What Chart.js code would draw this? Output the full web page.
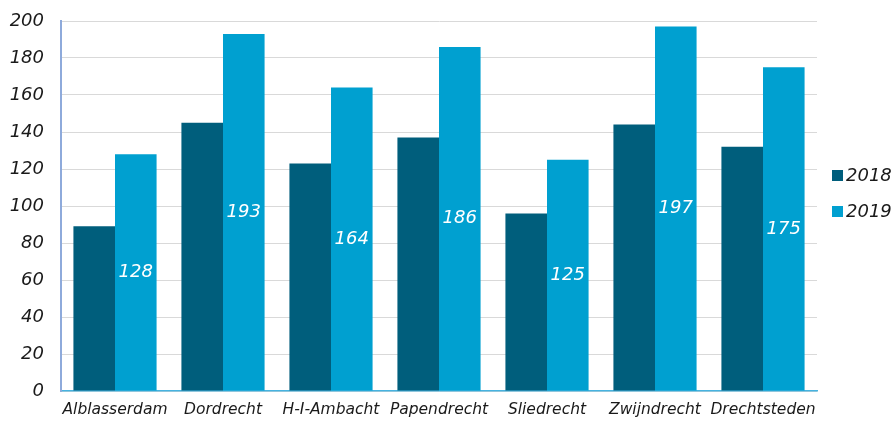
<!DOCTYPE html>
<html>
<head>
<meta charset="utf-8">
<script src="https://cdn.jsdelivr.net/npm/chart.js@4/dist/chart.umd.min.js"></script>
<style>
  html, body { margin: 0; padding: 0; background: #fff; }
  #wrap { width: 896px; height: 421px; }
</style>
</head>
<body>
<div id="wrap"><canvas id="chart"></canvas></div>
<script>
const gemeenten = ["Alblasserdam", "Dordrecht", "H-I-Ambacht", "Papendrecht", "Sliedrecht", "Zwijndrecht", "Drechtsteden"];
const jaren = ["2018", "2019"];
const waarden2018 = [89, 145, 123, 137, 96, 144, 132];
const waarden2019 = [128, 193, 164, 186, 125, 197, 175];
const kleuren = ["#005e7c", "#00a0d0"];

const fontFam = "'DejaVu Sans', Verdana, sans-serif";

// labels in the 2019 bars, centred
const barLabels = {
  id: "barLabels",
  afterDatasetsDraw(chart) {
    const ctx = chart.ctx;
    const meta = chart.getDatasetMeta(1);
    ctx.save();
    ctx.font = "italic 18px " + fontFam;
    ctx.fillStyle = "#ffffff";
    ctx.textAlign = "center";
    ctx.textBaseline = "middle";
    meta.data.forEach((bar, i) => {
      const y = (bar.y + bar.base) / 2;
      ctx.fillText(String(waarden2019[i]), bar.x, y);
    });
    ctx.restore();
  }
};

// legend on the right
const sideLegend = {
  id: "sideLegend",
  afterDraw(chart) {
    const ctx = chart.ctx;
    ctx.save();
    ctx.font = "italic 18px " + fontFam;
    ctx.textBaseline = "middle";
    chart.data.datasets.forEach((ds, i) => {
      const y = 175 + i * 36;
      ctx.fillStyle = ds.backgroundColor;
      ctx.fillRect(832, y - 5, 11, 11);
      ctx.fillStyle = "#1a1a1a";
      ctx.fillText(ds.label, 846, y + 1);
    });
    ctx.restore();
  }
};

new Chart(document.getElementById("chart"), {
  type: "bar",
  data: {
    labels: gemeenten,
    datasets: [
      { label: jaren[0], data: waarden2018, backgroundColor: kleuren[0] },
      { label: jaren[1], data: waarden2019, backgroundColor: kleuren[1] }
    ]
  },
  options: {
    responsive: true,
    maintainAspectRatio: false,
    animation: false,
    layout: { padding: { top: 21, right: 79, left: 0, bottom: 0 } },
    datasets: { bar: { categoryPercentage: 0.77, barPercentage: 1.0 } },
    plugins: {
      legend: { display: false },
      tooltip: { enabled: false }
    },
    scales: {
      x: {
        grid: { display: false, drawTicks: false },
        border: { color: "#47b3e0", width: 1.5 },
        ticks: {
          color: "#1a1a1a",
          font: { family: fontFam, size: 15.5, style: "italic" },
          padding: 10,
          maxRotation: 0,
          autoSkip: false
        },
        afterFit(scale) { scale.height = 30; }
      },
      y: {
        min: 0,
        max: 200,
        grid: { color: "#d9d9d9", drawTicks: false },
        border: { color: "#8eaadb", width: 2 },
        ticks: {
          stepSize: 20,
          color: "#1a1a1a",
          font: { family: fontFam, size: 18, style: "italic" },
          padding: 17
        },
        afterFit(scale) {
          scale.width = 61;
          scale.paddingTop = 0;
          scale.paddingBottom = 0;
        }
      }
    }
  },
  plugins: [barLabels, sideLegend]
});
</script>
</body>
</html>
